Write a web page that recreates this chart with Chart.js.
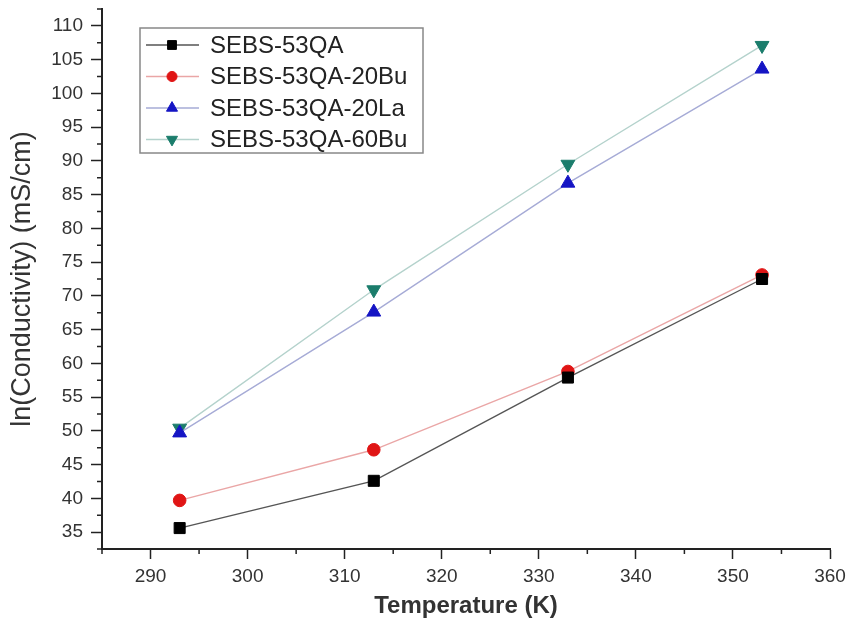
<html lang="en">
<head>
  <meta charset="UTF-8">
  <title>Conductivity</title>
  <script src="https://cdn.jsdelivr.net/npm/chart.js@4.4.1/dist/chart.umd.min.js"></script>
  <style>
    body { margin: 0; background: #fff; }
    #wrap { width: 849px; height: 633px; }
  </style>
</head>
<body>
<div id="wrap"><canvas id="chart"></canvas></div>
<script>
  // temperatures (K)
  const temps = [293, 313, 333, 353];
  const seriesNames = ['SEBS-53QA', 'SEBS-53QA-20Bu', 'SEBS-53QA-20La', 'SEBS-53QA-60Bu'];
  const qa = [35.6, 42.6, 57.9, 72.5];
  const qa20Bu = [39.7, 47.2, 58.8, 73.1];
  const qa20La = [49.7, 67.6, 86.7, 103.6];
  const qa60Bu = [50.4, 70.9, 89.5, 107.1];

  const lineColors = ['#555555', '#eaa6a6', '#a6abd6', '#b4d2cc'];
  const markColors = ['#000000', '#e01515', '#1515c4', '#1b7d6c'];
  const markStyles = ['rect', 'circle', 'triangle', 'triangle'];
  const markRot = [0, 0, 0, 180];
  const markSize = [7.8, 6.3, 8, 8];
  const allValues = [qa, qa20Bu, qa20La, qa60Bu];

  const FONT = 'Arial, "Liberation Sans", sans-serif';
  const isMult = (v, m) => Math.abs(v / m - Math.round(v / m)) < 1e-6;

  const datasets = allValues.map((vals, i) => ({
    label: seriesNames[i],
    data: vals.map((v, j) => ({ x: temps[j], y: v })),
    borderColor: lineColors[i],
    borderWidth: 1.4,
    pointStyle: markStyles[i],
    pointRotation: markRot[i],
    pointRadius: markSize[i],
    pointBackgroundColor: markColors[i],
    pointBorderColor: markColors[i],
    pointBorderWidth: 1,
    tension: 0
  }));

  // short minor ticks, the long ones come from the scales
  const minorTicks = {
    id: 'minorTicks',
    afterDraw(chart) {
      const ctx = chart.ctx;
      const xs = chart.scales.x, ys = chart.scales.y;
      ctx.save();
      ctx.strokeStyle = '#222';
      ctx.lineWidth = 1.5;
      ctx.beginPath();
      xs.ticks.forEach(t => {
        if (isMult(t.value, 10)) return;
        const px = xs.getPixelForValue(t.value);
        ctx.moveTo(px, xs.top);
        ctx.lineTo(px, xs.top + 5);
      });
      ys.ticks.forEach(t => {
        if (isMult(t.value, 5)) return;
        const py = ys.getPixelForValue(t.value);
        ctx.moveTo(ys.right, py);
        ctx.lineTo(ys.right - 5, py);
      });
      ctx.stroke();
      ctx.restore();
    }
  };

  // legend drawn inside the plot, like the original figure
  const boxLegend = {
    id: 'boxLegend',
    afterDraw(chart) {
      const ctx = chart.ctx;
      const x0 = 140, y0 = 28, w = 283, h = 125;
      ctx.save();
      ctx.strokeStyle = '#888';
      ctx.lineWidth = 1.5;
      ctx.strokeRect(x0, y0, w, h);
      ctx.font = '24px ' + FONT;
      ctx.textBaseline = 'middle';
      chart.data.datasets.forEach((ds, i) => {
        const cy = y0 + 17 + i * 31.5;
        ctx.strokeStyle = ds.borderColor;
        ctx.lineWidth = 1.3;
        ctx.beginPath();
        ctx.moveTo(146, cy);
        ctx.lineTo(199, cy);
        ctx.stroke();
        ctx.fillStyle = ds.pointBackgroundColor;
        ctx.strokeStyle = ds.pointBorderColor;
        ctx.lineWidth = 1;
        Chart.helpers.drawPoint(ctx, {
          pointStyle: ds.pointStyle,
          rotation: ds.pointRotation,
          radius: ds.pointRadius * 0.8,
          borderWidth: 1
        }, 172, cy);
        ctx.fillStyle = '#222';
        ctx.fillText(ds.label, 210, cy + 1);
      });
      ctx.restore();
    }
  };

  const tickFont = { family: FONT, size: 19 };

  new Chart(document.getElementById('chart'), {
    type: 'line',
    data: { datasets: datasets },
    plugins: [minorTicks, boxLegend],
    options: {
      responsive: true,
      maintainAspectRatio: false,
      animation: false,
      layout: { padding: { top: 8, right: 19, left: 0, bottom: 0 } },
      plugins: { legend: { display: false }, tooltip: { enabled: false } },
      scales: {
        x: {
          type: 'linear',
          min: 285, max: 360,
          border: { color: '#222', width: 2 },
          grid: {
            drawOnChartArea: false, tickLength: 10, tickWidth: 1.5,
            tickColor: c => (c.tick && isMult(c.tick.value, 10) ? '#222' : 'rgba(0,0,0,0)')
          },
          ticks: {
            stepSize: 5, color: '#333', font: tickFont, padding: 6, maxRotation: 0, autoSkip: false,
            callback: v => (isMult(v, 10) ? String(Math.round(v)) : '')
          },
          title: {
            display: true, text: 'Temperature (K)', color: '#333',
            font: { family: FONT, size: 24, weight: 'bold' },
            padding: { top: 12, bottom: 12 }
          },
          afterFit: s => { s.height = 84; s.paddingRight = 0; s.paddingLeft = 0; }
        },
        y: {
          type: 'linear',
          min: 32.5, max: 112.5,
          border: { color: '#222', width: 2 },
          grid: {
            drawOnChartArea: false, tickLength: 11, tickWidth: 1.5,
            tickColor: c => (c.tick && isMult(c.tick.value, 5) ? '#222' : 'rgba(0,0,0,0)')
          },
          ticks: {
            stepSize: 2.5, color: '#333', font: tickFont,
            padding: 8, autoSkip: false,
            callback: v => (isMult(v, 5) ? String(Math.round(v)) : '')
          },
          title: {
            display: true, text: 'ln(Conductivity) (mS/cm)', color: '#333',
            font: { family: FONT, size: 27 },
            padding: { top: 6, bottom: 6 }
          },
          afterFit: s => { s.width = 102; s.paddingTop = 0; s.paddingBottom = 0; }
        }
      }
    }
  });
</script>
</body>
</html>
